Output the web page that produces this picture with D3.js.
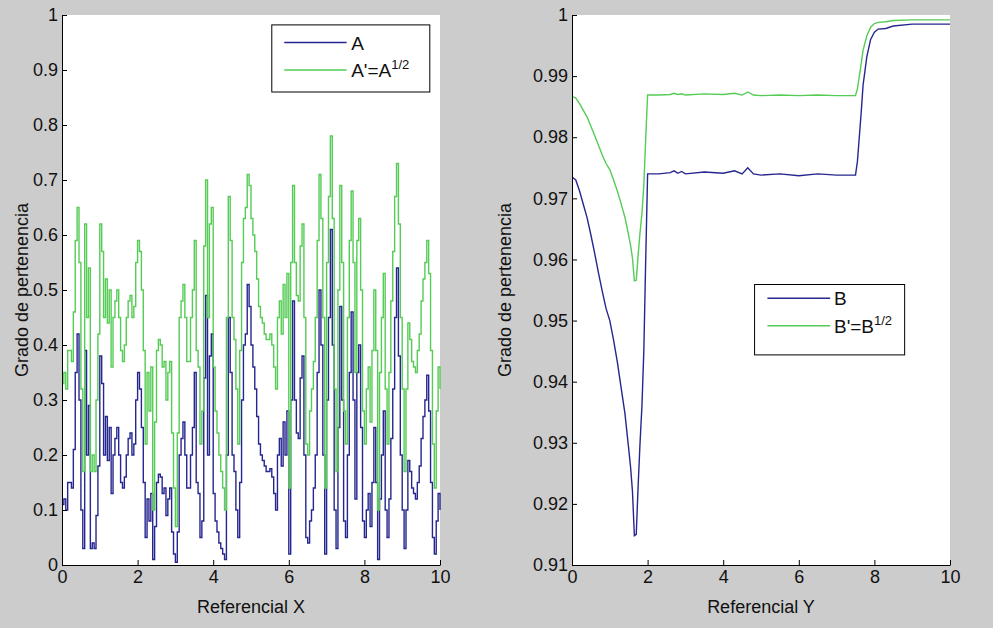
<!DOCTYPE html>
<html><head><meta charset="utf-8">
<script src="https://cdn.jsdelivr.net/npm/d3@7"></script>
<style>body{margin:0;background:#cccccc;} svg{display:block;}</style>
</head><body><svg id="c" width="993" height="628"></svg>
<script>
// ---------- data ----------
const xTicks = [0, 2, 4, 6, 8, 10];
const leftYTicks = [0, 0.1, 0.2, 0.3, 0.4, 0.5, 0.6, 0.7, 0.8, 0.9, 1];
const rightYTicks = [0.91, 0.92, 0.93, 0.94, 0.95, 0.96, 0.97, 0.98, 0.99, 1];

const xStepA = 0.05; // sampling step of the left series (x from 0 to 10)
const seriesA = [
 0.11,0.12,0.10,0.15,0.15,0.14,0.21,0.35,0.42,0.30,
 0.10,0.03,0.39,0.20,0.29,0.03,0.04,0.03,0.09,0.18,
 0.38,0.33,0.20,0.27,0.19,0.25,0.13,0.20,0.23,0.25,
 0.20,0.15,0.14,0.16,0.20,0.23,0.24,0.20,0.22,0.30,
 0.35,0.32,0.25,0.15,0.05,0.12,0.08,0.13,0.01,0.07,
 0.15,0.165,0.16,0.13,0.14,0.09,0.12,0.14,0.06,0.02,
 0.005,0.06,0.20,0.23,0.26,0.20,0.14,0.14,0.20,0.25,
 0.35,0.15,0.13,0.05,0.08,0.34,0.49,0.20,0.38,0.42,
 0.13,0.08,0.06,0.04,0.03,0.02,0.01,0.20,0.45,0.35,
 0.20,0.17,0.10,0.05,0.15,0.30,0.40,0.42,0.51,0.47,
 0.40,0.36,0.32,0.27,0.22,0.20,0.19,0.18,0.17,0.17,
 0.175,0.16,0.13,0.10,0.20,0.23,0.18,0.26,0.20,0.28,
 0.02,0.30,0.48,0.30,0.24,0.23,0.34,0.38,0.20,0.05,
 0.04,0.08,0.10,0.14,0.20,0.35,0.50,0.40,0.20,0.02,
 0.30,0.45,0.61,0.40,0.10,0.03,0.25,0.47,0.30,0.08,
 0.05,0.20,0.35,0.46,0.30,0.12,0.35,0.40,0.25,0.08,
 0.05,0.10,0.13,0.07,0.15,0.25,0.15,0.01,0.12,0.20,
 0.28,0.10,0.05,0.12,0.23,0.32,0.45,0.54,0.38,0.20,
 0.10,0.03,0.10,0.19,0.17,0.14,0.13,0.12,0.15,0.18,
 0.23,0.27,0.30,0.345,0.28,0.15,0.05,0.02,0.08,0.13,
 0.10
];
const seriesA2 = [
 0.33,0.35,0.32,0.39,0.39,0.37,0.46,0.59,0.65,0.55,
 0.32,0.17,0.62,0.45,0.54,0.17,0.20,0.17,0.30,0.42,
 0.62,0.57,0.45,0.52,0.44,0.50,0.36,0.45,0.48,0.50,
 0.45,0.39,0.37,0.40,0.45,0.48,0.49,0.45,0.47,0.55,
 0.59,0.57,0.50,0.39,0.22,0.35,0.28,0.36,0.10,0.26,
 0.39,0.41,0.40,0.36,0.37,0.30,0.35,0.37,0.24,0.14,
 0.07,0.24,0.45,0.48,0.51,0.45,0.37,0.37,0.45,0.50,
 0.59,0.39,0.36,0.22,0.28,0.58,0.70,0.45,0.62,0.65,
 0.36,0.28,0.24,0.20,0.17,0.14,0.10,0.45,0.67,0.59,
 0.45,0.41,0.32,0.22,0.39,0.55,0.63,0.65,0.71,0.69,
 0.63,0.60,0.57,0.52,0.47,0.45,0.44,0.42,0.41,0.41,
 0.42,0.40,0.36,0.32,0.45,0.48,0.42,0.51,0.45,0.53,
 0.14,0.55,0.69,0.55,0.49,0.48,0.58,0.62,0.45,0.22,
 0.20,0.28,0.32,0.37,0.45,0.59,0.71,0.63,0.45,0.14,
 0.55,0.67,0.78,0.63,0.32,0.17,0.50,0.69,0.55,0.28,
 0.22,0.45,0.59,0.68,0.55,0.35,0.59,0.63,0.50,0.28,
 0.22,0.32,0.36,0.26,0.39,0.50,0.39,0.10,0.35,0.45,
 0.53,0.32,0.22,0.35,0.48,0.57,0.67,0.73,0.62,0.45,
 0.32,0.17,0.32,0.44,0.41,0.37,0.36,0.35,0.39,0.42,
 0.48,0.52,0.55,0.59,0.53,0.39,0.22,0.14,0.28,0.36,
 0.32
];

const xB = [0,0.1,0.2,0.3,0.4,0.5,0.6,0.7,0.8,0.9,1.0,1.1,1.2,1.3,1.4,1.5,
 1.55,1.6,1.65,1.7,1.75,1.8,1.85,1.9,1.95,2.0,
 2.3,2.6,2.7,2.8,2.9,3.0,
 3.5,4.0,4.3,4.5,4.65,4.8,5.0,5.5,6.0,6.5,7.0,7.5,
 7.55,7.6,7.65,7.7,7.8,7.9,8.0,8.1,8.3,8.5,9.0,10.0];
const seriesB = [.9735,.9730,.9712,.9690,.9668,.9640,.9610,.9578,.9548,.9520,.9500,.9468,.9432,.9390,.9348,.9290,
 .9260,.9220,.9148,.9150,.9230,.9300,.9360,.9450,.9600,.9740,
 .9740,.9742,.9745,.9741,.9744,.9740,
 .9743,.9741,.9745,.9740,.9750,.9740,.9738,.9740,.9737,.9740,.9738,.9738,
 .9760,.9800,.9840,.9885,.9932,.9960,.9972,.9977,.9978,.9982,.9985,.9985];
const seriesB2 = [.9867,.9864,.9855,.9844,.9833,.9818,.9803,.9787,.9771,.9757,.9747,.9730,.9712,.9691,.9669,.9639,
 .9623,.9602,.9565,.9566,.9607,.9644,.9675,.9721,.9798,.9869,
 .9869,.9870,.9872,.9870,.9871,.9869,
 .9871,.9870,.9872,.9869,.9874,.9869,.9868,.9869,.9868,.9869,.9868,.9868,
 .9879,.9899,.9920,.9942,.9966,.9980,.9986,.9988,.9989,.9991,.9992,.9992];

const blue = "#262690";
const green = "#55cc55";
const FONT = "'Liberation Sans', Arial, sans-serif";
const FS = "18px";

// ---------- drawing ----------
const svg = d3.select("#c");
const plotTop = 15, plotBottom = 565;

function panel(o) {
  const x = d3.scaleLinear().domain([0, 10]).range([o.left, o.right]);
  const y = d3.scaleLinear().domain(o.yDomain).range([plotBottom, plotTop]);
  const g = svg.append("g");
  g.append("rect").attr("x", o.left).attr("y", plotTop)
    .attr("width", o.right - o.left).attr("height", plotBottom - plotTop).attr("fill", "#fff");

  const clipId = "clip" + o.id;
  svg.append("clipPath").attr("id", clipId).append("rect")
    .attr("x", o.left).attr("y", plotTop - 1).attr("width", o.right - o.left + 1).attr("height", plotBottom - plotTop + 2);

  const line = d3.line().x(d => x(d[0])).y(d => y(d[1])).curve(o.curve);
  o.series.forEach(s => {
    g.append("path").attr("clip-path", `url(#${clipId})`)
      .attr("d", line(s.xs.map((xv, i) => [xv, s.vals[i]])))
      .attr("fill", "none").attr("stroke", s.color).attr("stroke-width", 1.4);
  });

  const xAxis = g.append("g").attr("transform", `translate(0,${plotBottom})`)
    .call(d3.axisBottom(x).tickValues(xTicks).tickSizeInner(-5).tickSizeOuter(0).tickPadding(5)
      .tickFormat(d3.format("d")));
  const yAxis = g.append("g").attr("transform", `translate(${o.left},0)`)
    .call(d3.axisLeft(y).tickValues(o.yTicks).tickSizeInner(-5).tickSizeOuter(0).tickPadding(4)
      .tickFormat(d => String(+d.toFixed(2))));
  [xAxis, yAxis].forEach(a => {
    a.selectAll("path.domain").attr("stroke", "#000").attr("stroke-width", 1);
    a.selectAll(".tick line").attr("stroke", "#000");
    a.selectAll("text").attr("fill", "#111").style("font-family", FONT).style("font-size", FS);
  });

  g.append("text").attr("x", (o.left + o.right) / 2).attr("y", 613)
    .attr("text-anchor", "middle").style("font-family", FONT).style("font-size", FS)
    .attr("fill", "#111").text(o.xLabel);
  g.append("text").attr("transform", `translate(${o.yLabelX},${(plotTop + plotBottom) / 2}) rotate(-90)`)
    .attr("text-anchor", "middle").style("font-family", FONT).style("font-size", FS)
    .attr("fill", "#111").text("Grado de pertenencia");

  // legend
  const lg = o.legend, W = o.right - o.left, H = plotBottom - plotTop;
  const bx0 = o.left + lg.x0 * W, bx1 = o.left + lg.x1 * W;
  const by0 = plotTop + lg.y0 * H, by1 = plotTop + lg.y1 * H;
  g.append("rect").attr("x", bx0).attr("y", by0).attr("width", bx1 - bx0).attr("height", by1 - by0)
    .attr("fill", "#fff").attr("stroke", "#000").attr("stroke-width", 1);
  o.series.forEach((s, i) => {
    const ry = plotTop + lg.rows[i] * H;
    g.append("line").attr("x1", o.left + lg.s0 * W).attr("x2", o.left + lg.s1 * W)
      .attr("y1", ry).attr("y2", ry).attr("stroke", s.color).attr("stroke-width", 1.4);
    const t = g.append("text").attr("x", o.left + lg.tx * W).attr("y", ry + 7)
      .style("font-family", FONT).style("font-size", "19px").attr("fill", "#111");
    t.append("tspan").text(s.name);
    if (s.sup) t.append("tspan").attr("dy", -8).style("font-size", "13px").text(s.sup);
  });
}

const xsA = seriesA.map((_, i) => i * xStepA);

panel({
  id: "L", left: 62, right: 440, yDomain: [0, 1], yTicks: leftYTicks,
  curve: d3.curveStepAfter, xLabel: "Referencial X", yLabelX: 28,
  series: [
    { name: "A", xs: xsA, vals: seriesA, color: blue },
    { name: "A'=A", sup: "1/2", xs: xsA, vals: seriesA2, color: green }
  ],
  legend: { x0: 0.555, x1: 0.973, y0: 0.018, y1: 0.14, s0: 0.588, s1: 0.753, tx: 0.765, rows: [0.05, 0.10] }
});

panel({
  id: "R", left: 572, right: 950, yDomain: [0.91, 1], yTicks: rightYTicks,
  curve: d3.curveLinear, xLabel: "Referencial Y", yLabelX: 511,
  series: [
    { name: "B", xs: xB, vals: seriesB, color: blue },
    { name: "B'=B", sup: "1/2", xs: xB, vals: seriesB2, color: green }
  ],
  legend: { x0: 0.483, x1: 0.88, y0: 0.49, y1: 0.618, s0: 0.517, s1: 0.683, tx: 0.693, rows: [0.515, 0.565] }
});
</script>
</body></html>
